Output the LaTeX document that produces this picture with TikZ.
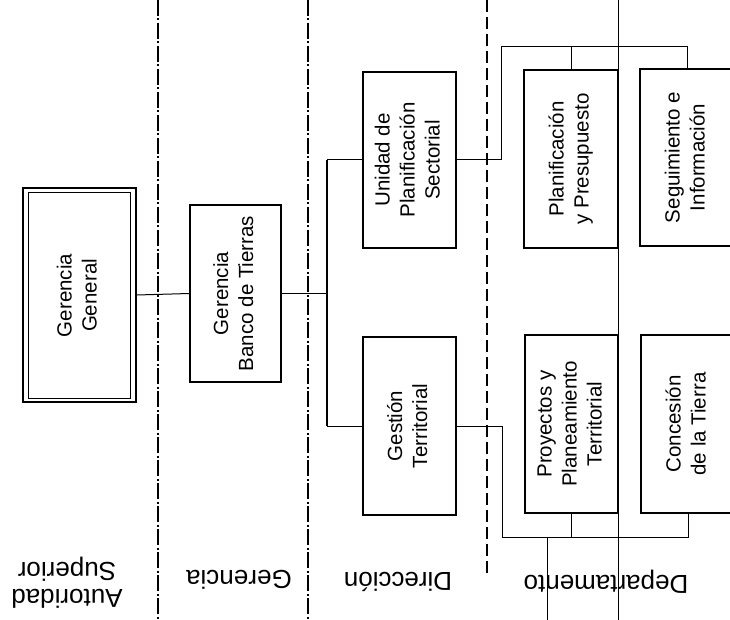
\documentclass[tikz,border=0pt]{standalone}
\usepackage{fontspec}
\setmainfont{Liberation Sans}
\usepackage{graphicx}
\newcommand{\vtxt}[1]{\rotatebox{90}{\begin{tabular}{@{}c@{}}#1\end{tabular}}}
\begin{document}
\begin{tikzpicture}[x=1pt,y=-1pt,
  box/.style={draw, line width=1.3pt, inner sep=0pt, minimum width=93pt, minimum height=178pt,
              font=\fontsize{20.5}{25}\selectfont},
  conn/.style={line width=1pt},
  lvl/.style={rotate=180, align=center, inner sep=0pt, font=\fontsize{26}{27}\selectfont},
  dashdotline/.style={line width=2pt, dash pattern=on 16pt off 2.5pt on 2pt off 2.5pt},
  dashline/.style={line width=2pt, dash pattern=on 12pt off 5pt}]
\useasboundingbox (0,0) rectangle (730,620);
\clip (0,0) rectangle (730,620);
\fill[white] (0,0) rectangle (730,620);

% level dividers
\draw[dashdotline] (157.5,0) -- (157.5,620);
\draw[dashdotline] (308,0) -- (308,620);
\draw[dashline] (487,0) -- (487,577);

% boxes
\node[draw, line width=2pt, minimum width=113pt, minimum height=214pt] (gg) at (79,295) {};
\node[box, line width=1pt, minimum width=102pt, minimum height=205pt] (ggi) at (79,295.5) {\vtxt{Gerencia\\General}};
\node[box, minimum width=91pt, minimum height=177pt] (gbt) at (235.5,293.5) {\vtxt{Gerencia\\Banco de Tierras}};
\node[box, minimum height=176pt] (ups) at (409.5,160) {\vtxt{Unidad de\\Planificación\\Sectorial}};
\node[box] (gt) at (409.5,426) {\vtxt{Gestión\\Territorial}};
\node[box, minimum width=94pt] (pp) at (571,159) {\vtxt{Planificación\\y Presupuesto}};
\node[box, minimum width=94pt, minimum height=177pt] (si) at (687,157.5) {\vtxt{Seguimiento e\\Información}};
\node[box] (ppt) at (571.5,424) {\vtxt{Proyectos y\\Planeamiento\\Territorial}};
\node[box, minimum width=94pt] (ct) at (688,424) {\vtxt{Concesión\\de la Tierra}};

% connectors
\coordinate (dbar) at (327,0);
\draw[conn] (gg.east) -- (gbt.west);
\draw[conn] (gbt.east) -- (gbt.east -| dbar);
\draw[conn] (ups.west) -- (ups.west -| dbar);
\draw[conn] (gt.west) -- (gt.west -| dbar);
\draw[line width=1.5pt] (ups.west -| dbar) -- (gt.west -| dbar);

\coordinate (tj) at (501,47);
\draw[conn] (ups.east) -| (tj) -| (si.north);
\draw[conn] (pp.north) -- (pp.north |- tj);
\coordinate (bj) at (502,537);
\draw[conn] (gt.east) -| (bj) -| (ct.south);
\draw[conn] (ppt.south) -- (ppt.south |- bj);

% vertical guide lines
\coordinate (st) at (618,0);
\coordinate (sb) at (618,620);
\draw[conn] (st) -- (sb);
\coordinate (pt) at (547,537);
\coordinate (pb) at (547,620);
\draw[conn] (pt) -- (pb);

% level labels (upside down)
\node[lvl] (la) at (67,583) {Autoridad\\Superior};
\node[lvl] (lg) at (239,580) {Gerencia};
\node[lvl] (ld) at (398,582) {Dirección};
\node[lvl] (ldp) at (606,582) {Departamento};
\end{tikzpicture}
\end{document}
